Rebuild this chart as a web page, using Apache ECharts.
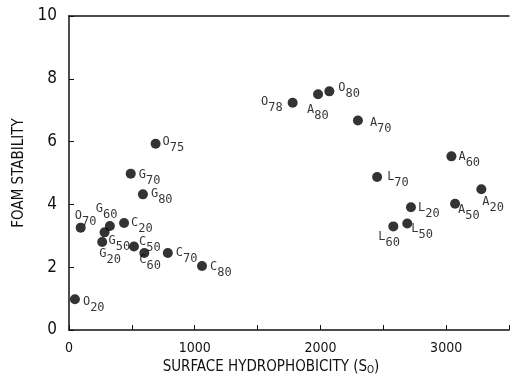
<!DOCTYPE html>
<html>
<head>
<meta charset="utf-8">
<script src="https://cdn.jsdelivr.net/npm/echarts@6/dist/echarts.min.js"></script>
<style>
html, body { margin: 0; padding: 0; background: #fff; }
#chart { width: 512px; height: 382px; }
</style>
</head>
<body>
<div id="chart"></div>
<script>
// protein / level
var letters = ['O', 'O', 'G', 'G', 'G', 'C', 'C', 'C', 'C', 'C', 'G', 'G', 'O', 'O', 'A', 'O', 'A', 'A', 'L', 'A', 'L', 'A', 'L', 'L'];
var levels = ['20', '70', '60', '50', '20', '20', '50', '60', '70', '80', '80', '70', '75', '78', '80', '80', '70', '60', '70', '20', '20', '50', '60', '50'];
var hydrophobicity = [47, 93, 325, 283, 264, 438, 517, 599, 786, 1058, 588, 491, 689, 1779, 1981, 2071, 2298, 3042, 2451, 3280, 2720, 3071, 2580, 2691];
var foamStability = [0.98, 3.26, 3.31, 3.11, 2.80, 3.41, 2.66, 2.45, 2.45, 2.04, 4.32, 4.98, 5.93, 7.24, 7.51, 7.60, 6.67, 5.53, 4.87, 4.48, 3.91, 4.02, 3.30, 3.39];

var xTicks = [0, 1000, 2000, 3000];
var yTicks = [0, 2, 4, 6, 8, 10];

// where each point's label sits relative to its dot: [dx, dy, align]
var labelPlace = {
    O20: [8, 9, 'left'], O70: [-6, -6, 'left'], G60: [-14, -11, 'left'],
    G50: [4, 15, 'left'], G20: [-3, 18, 'left'], C20: [7, 6, 'left'],
    C50: [5, 1, 'left'], C60: [-5, 13, 'left'], C70: [8, 6, 'left'],
    C80: [8, 7, 'left'], G80: [8, 6, 'left'], G70: [8, 7, 'left'],
    O75: [7, 4, 'left'], O78: [-10, 5, 'right'], A80: [-11, 22, 'left'],
    O80: [9, 3, 'left'], A70: [12, 8, 'left'], A60: [7, 7, 'left'],
    L70: [10, 6, 'left'], A20: [1, 19, 'left'], L20: [7, 7, 'left'],
    A50: [3, 12, 'left'], L60: [-15, 16, 'left'], L50: [4, 11, 'left']
};

var labelFont = 'DejaVu Sans Mono';
var axisFont = '"DejaVu Sans Condensed", "Liberation Sans Narrow", sans-serif';

var points = hydrophobicity.map(function (x, i) {
    var key = letters[i] + levels[i];
    var p = labelPlace[key];
    return {
        name: key,
        value: [x, foamStability[i]],
        label: {
            show: true,
            position: 'inside',
            align: p[2],
            verticalAlign: 'middle',
            offset: [p[0], p[1]],
            formatter: '{l|' + letters[i] + '}{s|' + levels[i] + '}'
        }
    };
});

echarts.init(document.getElementById('chart')).setOption({
    animation: false,
    backgroundColor: '#fff',
    grid: { left: 69, right: 1, top: 16, bottom: 52 },
    xAxis: [{
        type: 'value',
        min: 0,
        max: 3500,
        interval: 500,
        splitLine: { show: false },
        axisLine: { lineStyle: { color: '#111', width: 1.5 } },
        axisTick: { inside: true, length: 5, lineStyle: { color: '#111' } },
        axisLabel: {
            color: '#111',
            fontFamily: axisFont,
            fontSize: 14,
            margin: 11,
            formatter: function (v) { return xTicks.indexOf(v) >= 0 ? String(v) : ''; }
        },
        name: '{a|SURFACE HYDROPHOBICITY (S}{b|O}{a|)}',
        nameLocation: 'middle',
        nameGap: 28,
        nameTextStyle: {
            padding: [0, 36, 0, 0],
            rich: {
                a: { fontFamily: axisFont, fontSize: 15, color: '#111', lineHeight: 16, verticalAlign: 'top' },
                b: { fontFamily: axisFont, fontSize: 10, color: '#111', lineHeight: 22 }
            }
        }
    }, {
        type: 'value',
        position: 'top',
        min: 0,
        max: 3500,
        axisLine: { show: true, lineStyle: { color: '#111', width: 1.5 } },
        axisTick: { show: false },
        axisLabel: { show: false },
        splitLine: { show: false }
    }],
    yAxis: {
        type: 'value',
        min: 0,
        max: 10,
        interval: 2,
        splitLine: { show: false },
        axisLine: { show: true, lineStyle: { color: '#111', width: 1.5 } },
        axisTick: { show: true, inside: true, length: 5, lineStyle: { color: '#111' } },
        axisLabel: {
            color: '#111',
            fontFamily: axisFont,
            fontSize: 17,
            margin: 12,
            formatter: function (v) { return yTicks.indexOf(v) >= 0 ? String(v) : ''; }
        },
        name: 'FOAM STABILITY',
        nameLocation: 'middle',
        nameGap: 34,
        nameTextStyle: { fontFamily: axisFont, fontSize: 15, color: '#111' }
    },
    series: [{
        type: 'scatter',
        symbol: 'circle',
        symbolSize: 10,
        itemStyle: { color: '#000' },
        label: {
            rich: {
                l: { fontFamily: labelFont, fontSize: 12, color: '#000', lineHeight: 12, verticalAlign: 'top' },
                s: { fontFamily: labelFont, fontSize: 12, color: '#000', lineHeight: 24 }
            }
        },
        data: points
    }]
});
</script>
</body>
</html>
